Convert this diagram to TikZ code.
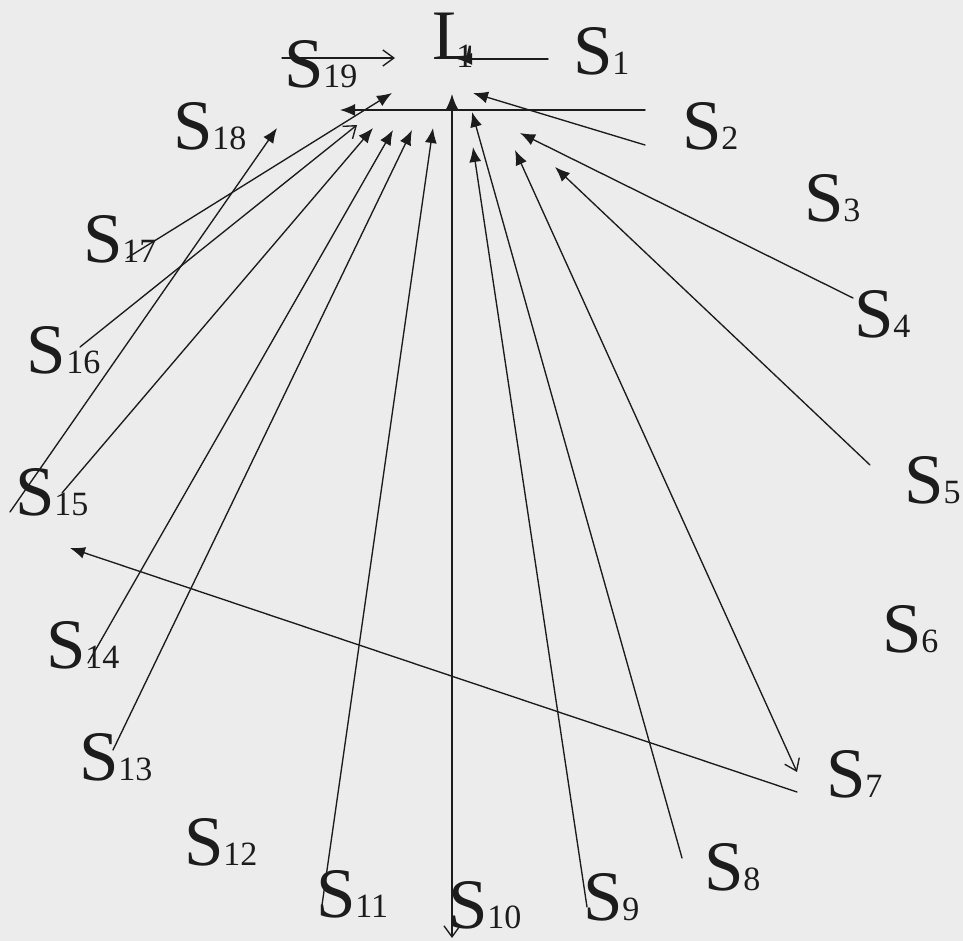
\documentclass[tikz,border=0pt]{standalone}
\usepackage{fontspec}
\setmainfont{Liberation Serif}
\usetikzlibrary{arrows.meta}
\definecolor{paper}{RGB}{236,236,236}
\definecolor{ink}{RGB}{28,28,28}
\newcommand{\Sname}[1]{{\fontsize{71}{71}\selectfont S}{\fontsize{34}{34}\selectfont #1}}
\begin{document}
\begin{tikzpicture}[x=1pt, y=-1pt, line join=round, line cap=round, color=ink, line width=1.35pt,
	>={Latex[length=15pt,width=12pt]}]
	\tikzset{lab/.style={anchor=base west, inner sep=0pt, outer sep=0pt},
		barb/.style={-{Straight Barb[length=11pt,width=16pt]}}}
	\fill[paper] (0,0) rectangle (963,941);
	\useasboundingbox (0,0) rectangle (963,941);
	% tails (p) and tips (q) of the arrows
	\foreach \n/\a/\b/\c/\d in {1/548/59/457/59, 2/645/145/473/93, 2h/645/110/340/110,
		4/853/298/520/133, 5/870/465/555/167, 8/682/858/472/112, 9/587/907/473/147,
		11/322/905/433/128, 13/113/750/412/130, 14/88/663/393/130, 15/62/493/373/128,
		17/127/258/392/93, 18/10/512/277/128, 7b/797/792/70/548,
		19/282/58/395/58, 16/80/347/357/125, 7/797/772/515/150, 10/452/938/452/94}
	{\coordinate (p\n) at (\a,\b); \coordinate (q\n) at (\c,\d);}
	\foreach \n in {1,2,2h,4,5,8,9,11,13,14,15,17,18,7b}
		\draw[->] (p\n)--(q\n);
	\draw[barb] (p19)--(q19);
	\draw[barb] (p16)--(q16);
	\draw[{Straight Barb[length=11pt,width=16pt]}->] (p7)--(q7);
	\draw[{Straight Barb[length=11pt,width=16pt]}->] (p10)--(q10);
	% labels
	\node[lab] (l1) at (432,60) {{\fontsize{71}{71}\selectfont L}\kern-19pt\raisebox{-8pt}{\fontsize{34}{34}\selectfont 1}};
	\foreach \n/\x/\y in {1/577/75, 2/686/150, 3/808/222, 4/858/337, 5/908/503, 6/886/652,
		7/830/797, 8/708/890, 9/587/920, 10/452/928, 11/320/917, 12/188/865, 13/83/780,
		14/50/668, 15/19/515, 16/31/373, 17/87/262, 18/177/150, 19/288/88}
		\node[lab] (s\n) at (\x-4,\y) {\Sname{\n}};
\end{tikzpicture}
\end{document}
